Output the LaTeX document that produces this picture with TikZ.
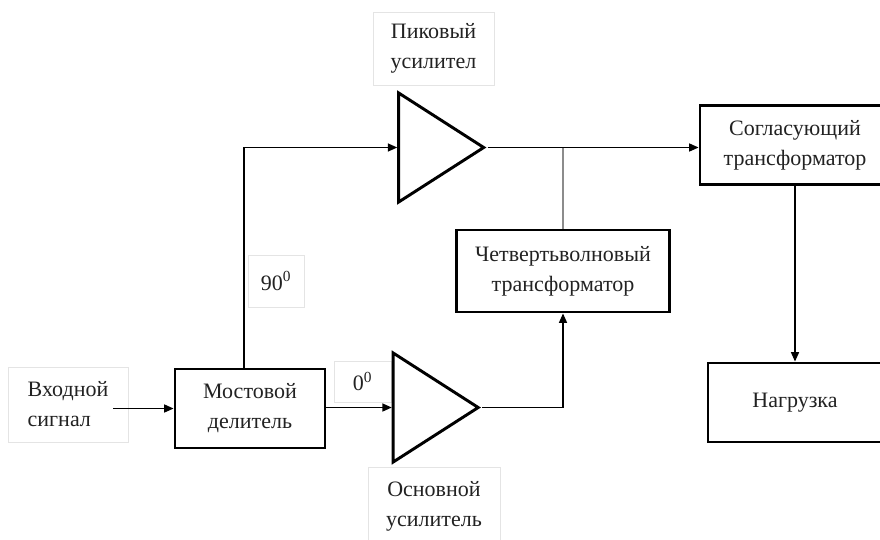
\documentclass[tikz,border=0pt]{standalone}
\usepackage{fontspec}
\setmainfont{Liberation Serif}
\usepackage{tikz}
\usetikzlibrary{shapes.geometric, arrows.meta, positioning}
\definecolor{framegray}{HTML}{E4E4E4}
\definecolor{wiregray}{HTML}{8C8C8C}
\definecolor{textgray}{HTML}{222222}

\begin{document}
\begin{tikzpicture}[x=0.75pt, y=-0.75pt, font=\fontsize{16.5}{22.5}\selectfont, text=textgray]
    % Styles
    \tikzstyle{block} = [draw, line width=2.2pt, minimum height=59.25pt, align=center, inner sep=0pt]
    \tikzstyle{lbl} = [draw=framegray, line width=0.6pt, align=center, inner sep=0pt]
    \tikzstyle{amp} = [draw, line width=2.2pt, isosceles triangle, isosceles triangle stretches, minimum width=81.75pt, minimum height=63.75pt, inner sep=0pt]
    \tikzstyle{arrow} = [draw, line width=1pt, -{Triangle[length=7pt, width=6pt]}]

    % Canvas
    \fill[white] (0,0) rectangle (880,539);
    \useasboundingbox (0,0) rectangle (880,539);

    % Labels
    \node[lbl, align=left, minimum width=90pt, minimum height=56.25pt] (inlab) at (68,404.5) {Входной\\сигнал};
    \node[lbl, minimum width=90.75pt, minimum height=54.75pt] (peaklab) at (433.5,48.5) {Пиковый\\усилител};
    \node[lbl, minimum width=99pt, minimum height=58.5pt] (mainlab) at (434,506) {Основной\\усилитель};
    \node[lbl, minimum width=42pt, minimum height=39pt] (lab90) at (276,281) {90\textsuperscript{0}};
    \node[lbl, minimum width=42.75pt, minimum height=30.75pt] (lab0) at (362.5,381.5) {0\textsuperscript{0}};

    % Blocks
    \node[block, minimum width=112.5pt] (split) at (250,408.5) {Мостовой\\делитель};
    \node[block, minimum width=159.75pt, minimum height=61.5pt] (qwt) at (563,271) {Четвертьволновый\\трансформатор};
    \node[block, minimum width=142.5pt] (match) at (795,145) {Согласующий\\трансформатор};
    \node[block, minimum width=130.5pt] (load) at (795,402.5) {Нагрузка};

    % Amplifiers
    \node[amp] (peak) at (428.5,147.5) {};
    \node[amp] (main) at (423,407.5) {};

    % Arrows
    \draw[arrow] ([xshift=-11.25pt]inlab.east |- split.west) -- (split.west);
    \draw[arrow] ([xshift=-4.5pt]split.north) |- (peak.lower side);
    \draw[arrow] (split.east |- main.lower side) -- (main.lower side);
    \draw[arrow] (peak.apex) -- (peak.apex -| match.west);
    \draw[wiregray, line width=1pt] (qwt.north) -- (qwt.north |- peak.apex);
    \draw[arrow] (main.apex) -| (qwt.south);
    \draw[arrow] (match.south) -- (load.north);
\end{tikzpicture}
\end{document}
